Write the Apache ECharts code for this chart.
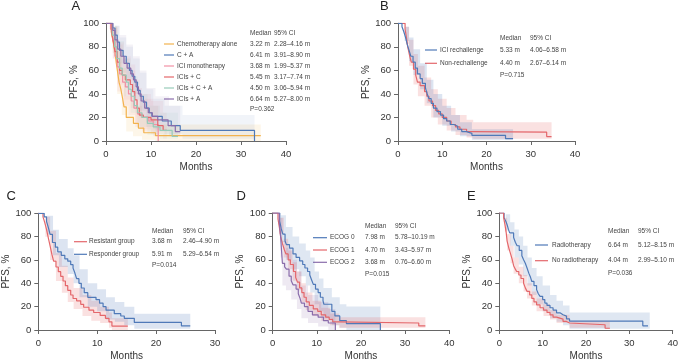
<!DOCTYPE html>
<html>
<head>
<meta charset="utf-8">
<script src="https://cdn.jsdelivr.net/npm/echarts@6/dist/echarts.min.js"></script>
<style>
  html, body { margin: 0; padding: 0; background: #fff; }
  #chart { width: 681px; height: 362px; }
</style>
</head>
<body>
<div id="chart"></div>
<script>
  // ---- panel A: treatment regimen ----
  const aChemo = [[0,100],[1.2,92],[1.6,84],[2.0,75],[2.3,66],[2.6,58],[2.9,50],[3.3,44],[3.6,38],[4.0,29],[4.5,20],[6.1,15],[7.2,11],[8.4,7],[11.0,4.5],[34.4,4.5]]
  const aCA = [[0,100],[1.5,96],[2.0,90],[2.5,84],[3.0,77],[3.8,72],[4.5,66],[5.2,60],[5.8,55],[6.4,50],[7.0,43],[7.6,38],[8.3,33],[9.0,28],[9.6,24],[10.2,21],[12.5,17],[14.5,13],[16.5,9],[33.0,9],[33.0,0]]
  const aICI = [[0,100],[1.0,95],[1.5,85],[2.0,72],[2.5,63],[3.0,57],[3.7,50],[4.3,46],[5.0,40],[5.6,34],[6.2,28],[7.0,23],[8.0,20],[9.5,17],[10.5,14],[11.6,0]]
  const aICIC = [[0,100],[1.2,93],[1.6,85],[2.0,76],[2.5,67],[3.0,60],[3.6,56],[4.3,52],[5.4,48],[5.9,42],[6.4,35],[6.9,28],[7.4,22],[8.3,20],[10.0,18],[11.5,13],[12.7,9],[13.5,9]]
  const aICICA = [[0,100],[1.4,90],[1.9,80],[2.4,70],[3.0,62],[3.6,56],[4.5,50],[5.0,44],[5.6,38],[6.3,30],[7.0,24],[8.0,20],[9.2,15],[10.5,12],[12.0,9],[14.7,4],[16.0,4]]
  const aICIA = [[0,100],[1.5,94],[2.0,86],[2.6,78],[3.3,72],[4.0,66],[4.7,62],[5.5,57],[6.1,52],[6.7,46],[7.2,40],[7.8,34],[8.6,28],[9.4,24],[10.3,21],[11.5,18],[13.8,13],[15.4,8],[16.5,8]]
  // bands: [month, lower, upper]
  const aChemoBand = [[0,100,100],[1.5,75,97],[2.5,40,78],[3.5,22,62],[4.5,8,38],[6,4,30],[8,1,20],[11,0,14],[34.4,0,14]]
  const aCABand = [[0,100,100],[2,80,98],[3,66,88],[4.5,53,80],[6,40,70],[7.5,26,58],[9,16,44],[10.5,10,36],[13,6,30],[17,2,22],[33,2,22]]
  const aICIBand = [[0,100,100],[1.5,70,96],[2.5,42,82],[3.7,30,70],[5,22,60],[6.5,12,45],[8,8,36],[10.5,4,30],[11.6,0,30]]
  const aICICBand = [[0,100,100],[1.5,70,97],[2.5,48,84],[4,35,72],[5.5,28,65],[6.5,16,52],[7.5,10,40],[10,6,34],[12.7,2,24],[13.5,2,24]]
  const aICICABand = [[0,100,100],[1.5,75,98],[2.5,55,85],[4,38,70],[5.5,24,55],[7,12,40],[9.2,5,30],[12,2,24],[16,0,18]]
  const aICIABand = [[0,100,100],[2,70,98],[3,58,90],[4.5,45,82],[6,35,72],[7.5,20,60],[9,12,45],[11,8,38],[14,4,30],[16.5,2,26]]
  const aLabels = ['Chemotherapy alone', 'C + A', 'ICI monotherapy', 'ICIs + C', 'ICIs + C + A', 'ICIs + A']
  const aMedians = ['3.22 m', '6.41 m', '3.68 m', '5.45 m', '4.50 m', '6.64 m']
  const aCIs = ['2.28–4.16 m', '3.91–8.90 m', '1.99–5.37 m', '3.17–7.74 m', '3.06–5.94 m', '5.27–8.00 m']

  // ---- panel B: rechallenge ----
  const bRe = [[0,100],[0.9,97],[1.3,93],[1.7,88],[2.1,82],[2.5,77],[2.9,72],[3.4,67],[3.9,62],[4.4,57],[5.0,53],[5.5,49],[6.2,45],[6.6,40],[7.0,36],[7.5,32],[8.0,28],[8.8,25],[9.6,22],[10.3,19],[11.0,17],[11.8,14],[12.6,12.5],[13.5,10],[14.4,8],[15.5,6.5],[16.7,4.8],[24.3,4.8],[24.3,2],[26.0,2]]
  const bNon = [[0,100],[1.6,95],[1.9,88],[2.2,80],[2.6,73],[3.0,67],[3.5,61],[4.0,56],[4.4,50],[5.0,47],[6.0,42],[6.5,38],[7.0,34],[7.8,30],[8.5,26],[9.2,23],[10.0,20],[11.0,17],[12.0,14],[13.0,12],[14.0,10],[15.5,8],[17.0,7.5],[33.6,7.5],[33.6,3.8],[34.7,3.8]]
  const bReBand = [[0,100,100],[1.5,85,97],[2.5,68,88],[3.5,56,78],[5,44,66],[6.5,32,52],[8,20,40],[10,13,30],[12,8,22],[14,4,16],[16.7,1,10],[26,1,10]]
  const bNonBand = [[0,100,100],[1.8,82,97],[2.5,64,86],[3.5,48,74],[4.5,38,64],[6,30,54],[7.5,20,44],[9,14,36],[11,9,28],[13,5,22],[15.5,3,18],[17,2,16],[34.7,2,16]]
  const bLabels = ['ICI rechallenge', 'Non-rechallenge']
  const bMedians = ['5.33 m', '4.40 m']
  const bCIs = ['4.06–6.58 m', '2.67–6.14 m']

  // ---- panel C: response group ----
  const cRes = [[0,100],[0.8,97],[1.1,92],[1.4,86],[1.7,79],[2.0,72],[2.3,65],[2.6,59],[3.0,54],[3.4,50],[3.8,46],[4.2,42],[4.6,38],[5.0,34],[5.5,30],[5.9,27],[6.5,25],[7.2,22],[7.7,19.5],[8.6,17],[9.4,15],[10.5,12.5],[11.4,10],[12.0,7],[12.5,3.4],[15.2,3.4]]
  const cResp = [[0,100],[1.0,97],[1.4,93],[1.7,88],[2.0,82],[2.4,75],[2.9,71],[3.3,67],[3.9,64],[4.5,61],[5.0,59],[5.5,56],[5.9,53],[6.2,49],[6.5,44],[6.9,40],[7.3,36],[7.8,32],[8.4,28],[9.8,26],[10.4,23],[11.0,20],[11.5,17],[12.9,14],[14.0,12],[14.6,10],[16.3,6.5],[24.3,6.5],[24.3,3.5],[25.8,3.5]]
  const cResBand = [[0,100,100],[1.2,80,97],[2,60,85],[3,42,66],[4,32,55],[5,24,45],[6,18,36],[7.5,12,30],[9,8,25],[10.5,6,20],[12,2,15],[12.5,0,10],[15.2,0,10]]
  const cRespBand = [[0,100,100],[1.5,82,98],[2.5,64,86],[3.5,54,78],[5,48,70],[6,40,64],[7,28,52],[8.4,20,40],[10,16,35],[11.5,9,28],[13,7,24],[14.6,4,20],[16.3,1,14],[25.8,1,14]]
  const cLabels = ['Resistant group', 'Responder group']
  const cMedians = ['3.68 m', '5.91 m']
  const cCIs = ['2.46–4.90 m', '5.29–6.54 m']

  // ---- panel D: ECOG ----
  const dE0 = [[0,100],[1.6,93],[1.9,87],[2.3,82],[2.8,76],[3.1,73],[3.8,70],[4.6,65],[5.3,62],[6.1,59],[6.8,56],[7.3,53],[7.9,50],[8.4,47],[8.8,43],[9.2,39],[9.7,35],[10.3,32],[10.8,28],[11.4,25],[11.6,22],[13.4,16],[14.1,12],[15.2,8],[16.7,5.5],[24.4,5.5],[24.4,0]]
  const dE1 = [[0,100],[1.2,95],[1.5,88],[1.8,80],[2.2,74],[2.6,69],[3.0,65],[3.5,60],[4.0,56],[4.7,50],[5.2,45],[5.6,41],[6.1,36],[6.6,32],[7.1,28],[7.6,24],[8.3,21],[9.2,18],[10.2,16],[11.0,13],[12.0,11],[12.8,9],[13.6,7],[15.0,6],[33.1,6],[33.1,3.5],[34.6,3.5]]
  const dE2 = [[0,100],[1.5,92],[1.8,80],[2.0,68],[2.2,57],[2.7,54],[3.1,52],[3.7,46],[4.2,42],[4.6,38.6],[5.3,35],[5.8,31],[6.2,27],[6.5,23],[7.2,20],[8.0,16],[9.0,13],[10.3,11],[11.5,8],[12.6,6],[14.2,0]]
  const dE0Band = [[0,100,100],[1.8,75,98],[3,60,88],[4.5,52,80],[6,46,74],[7.5,38,68],[8.5,32,62],[9.5,22,50],[10.5,16,44],[11.5,10,36],[13.4,4,28],[15.2,2,22],[16.7,0,20],[24.4,0,20]]
  const dE1Band = [[0,100,100],[1.5,82,96],[2.5,62,78],[3.5,52,68],[4.5,42,58],[5.5,34,50],[6.5,24,40],[7.5,17,32],[9,12,25],[11,8,19],[13,4,14],[15,2,11],[34.6,2,11]]
  const dE2Band = [[0,100,100],[1.8,62,96],[2.2,38,76],[3,34,70],[4.2,26,60],[5.5,18,50],[6.5,10,38],[8,6,30],[10.3,3,24],[12.6,0,18],[14.2,0,18]]
  const dLabels = ['ECOG 0', 'ECOG 1', 'ECOG 2']
  const dMedians = ['7.98 m', '4.70 m', '3.68 m']
  const dCIs = ['5.78–10.19 m', '3.43–5.97 m', '0.76–6.60 m']

  // ---- panel E: radiotherapy ----
  const eRad = [[0,100],[1.1,96],[1.5,93],[1.8,90],[2.1,86],[2.4,83],[3.3,79],[3.7,75],[4.1,72],[4.6,68],[5.2,63.5],[5.6,60],[6.0,57],[6.4,53],[6.8,48.6],[7.2,45],[7.5,41.5],[8.0,38],[8.6,34.5],[9.0,31],[9.4,28.8],[10.0,26],[10.5,23],[11.0,21],[11.7,19],[12.4,17],[13.2,14.7],[14.0,13],[14.7,11.9],[15.5,9.5],[16.2,7.6],[33.1,7.6],[33.1,3.6],[34.3,3.6]]
  const eNo = [[0,100],[1.0,96],[1.3,90],[1.6,83],[1.8,76],[2.2,70],[2.6,65],[3.0,60],[3.3,55],[3.7,52],[4.0,50],[4.5,47],[5.0,44],[5.6,40],[6.0,36],[6.4,33],[7.0,30],[7.5,27],[8.0,24],[8.6,21.5],[9.4,19],[10.2,17],[11.0,15],[11.7,13],[12.4,11],[13.2,9.3],[14.7,7.3],[15.5,6],[16.2,4.5],[24.4,4.5],[24.4,1.5],[25.5,1.5]]
  const eRadBand = [[0,100,100],[1.5,85,99],[2.5,72,92],[3.5,62,86],[4.5,56,80],[5.5,46,72],[6.5,38,62],[7.5,30,53],[8.6,22,46],[10,16,38],[11.7,10,30],[13.2,7,25],[14.7,4,21],[16.2,1,15],[34.7,1,15]]
  const eNoBand = [[0,100,100],[1.3,84,96],[1.8,68,82],[2.6,57,72],[3.3,48,62],[4.5,40,54],[5.6,33,47],[6.4,27,40],[7.5,21,33],[8.6,16,27],[10.2,12,22],[11.7,9,17],[13.2,6,13],[16.2,2,8],[24.4,1,8],[25.5,0,5]]
  const eLabels = ['Radiotherapy', 'No radiotherapy']
  const eMedians = ['6.64 m', '4.04 m']
  const eCIs = ['5.12–8.15 m', '2.99–5.10 m']

  const pValues = ['P=0.362', 'P=0.715', 'P=0.014', 'P=0.015', 'P=0.036']
  const xMaxes = [40, 40, 30, 40, 40]

  const FONT = 'Liberation Sans, Arial, sans-serif'
  const ORANGE = '#f2b24e', BLUE = '#4f79b8', PINK = '#f190a4', RED = '#e4676b', TEAL = '#98cbb9', PURPLE = '#8a6cab'

  const grids = [
    { left: 106, top: 23.3, width: 180, height: 117.7 },
    { left: 398, top: 23.3, width: 177, height: 117.7 },
    { left: 38.3, top: 213.3, width: 176.7, height: 117.7 },
    { left: 272.7, top: 213, width: 176.5, height: 118 },
    { left: 499.3, top: 213, width: 176.7, height: 118 }
  ]

  const axisLine = { lineStyle: { color: '#666', width: 1 } }
  const xAxes = grids.map((g, i) => ({
    type: 'value', gridIndex: i, min: 0, max: xMaxes[i], interval: 10,
    name: 'Months', nameLocation: 'middle', nameGap: 21,
    nameTextStyle: { fontFamily: FONT, fontSize: 10, color: '#333' },
    axisLine: axisLine, axisTick: { length: 4, lineStyle: { color: '#666' } },
    axisLabel: { fontFamily: FONT, fontSize: 9.5, color: '#333', margin: 8 },
    splitLine: { show: false }
  }))
  const yAxes = grids.map((g, i) => ({
    type: 'value', gridIndex: i, min: 0, max: 100, interval: 20,
    name: 'PFS, %', nameLocation: 'middle', nameGap: 27,
    nameTextStyle: { fontFamily: FONT, fontSize: 10, color: '#333' },
    axisLine: { show: true, lineStyle: { color: '#666', width: 1 } },
    axisTick: { show: true, length: 4, lineStyle: { color: '#666' } },
    axisLabel: { fontFamily: FONT, fontSize: 9.5, color: '#333', margin: 7 },
    splitLine: { show: false }
  }))

  const series = []
  // confidence band: one step-shaped polygon, points mapped through the axes
  function band(idx, rows, color, opacity) {
    series.push({
      type: 'custom', xAxisIndex: idx, yAxisIndex: idx, silent: true, z: 1,
      data: [[rows[0][0], rows[0][1]]],
      renderItem: function (params, api) {
        const top = [], bot = []
        for (let i = 0; i < rows.length; i++) {
          const t0 = rows[i][0]
          const t1 = i + 1 < rows.length ? rows[i + 1][0] : rows[i][0]
          top.push(api.coord([t0, rows[i][2]]), api.coord([t1, rows[i][2]]))
          bot.push(api.coord([t0, rows[i][1]]), api.coord([t1, rows[i][1]]))
        }
        return {
          type: 'polygon',
          shape: { points: top.concat(bot.reverse()) },
          style: { fill: color, opacity: opacity }
        }
      }
    })
  }
  function km(idx, data, color) {
    series.push({
      type: 'line', xAxisIndex: idx, yAxisIndex: idx, step: 'end',
      symbol: 'none', silent: true, z: 5,
      lineStyle: { color: color, width: 1.2 },
      data: data
    })
  }

  band(0, aChemoBand, ORANGE, 0.12)
  band(0, aCABand, BLUE, 0.08)
  band(0, aICIBand, PINK, 0.12)
  band(0, aICICBand, RED, 0.07)
  band(0, aICICABand, TEAL, 0.1)
  band(0, aICIABand, PURPLE, 0.09)
  km(0, aChemo, ORANGE); km(0, aCA, BLUE); km(0, aICI, PINK)
  km(0, aICIC, RED); km(0, aICICA, TEAL); km(0, aICIA, PURPLE)

  band(1, bNonBand, RED, 0.2)
  band(1, bReBand, BLUE, 0.2)
  km(1, bNon, RED); km(1, bRe, BLUE)

  band(2, cResBand, RED, 0.2)
  band(2, cRespBand, BLUE, 0.2)
  km(2, cRes, RED); km(2, cResp, BLUE)

  band(3, dE0Band, BLUE, 0.18)
  band(3, dE1Band, RED, 0.2)
  band(3, dE2Band, PURPLE, 0.15)
  km(3, dE0, BLUE); km(3, dE1, RED); km(3, dE2, PURPLE)

  band(4, eRadBand, BLUE, 0.18)
  band(4, eNoBand, RED, 0.2)
  km(4, eRad, BLUE); km(4, eNo, RED)

  // legend tables drawn as graphic text
  const graphic = []
  function txt(x, y, s, size, color) {
    graphic.push({ type: 'text', x: x, y: y, style: {
      text: s, fontFamily: FONT, fontSize: size || 6.5, fill: color || '#444', verticalAlign: 'middle', align: 'left'
    } })
  }
  function table(cfg, labels, medians, cis, colors, p) {
    txt(cfg.mx, cfg.hy, 'Median'); txt(cfg.cx, cfg.hy, '95% CI')
    labels.forEach((l, i) => {
      const y = cfg.ry + i * cfg.dy
      graphic.push({ type: 'line', shape: { x1: cfg.lx, y1: y, x2: cfg.lx + cfg.lw, y2: y },
        style: { stroke: colors[i], lineWidth: 1.2 } })
      txt(cfg.tx, y, l); txt(cfg.mx, y, medians[i]); txt(cfg.cx, y, cis[i])
    })
    txt(cfg.mx, cfg.py, p)
  }
  table({ hy: 33, ry: 44, dy: 11, lx: 164, lw: 10, tx: 177, mx: 250, cx: 274, py: 109 },
    aLabels, aMedians, aCIs, [ORANGE, BLUE, PINK, RED, TEAL, PURPLE], pValues[0])
  table({ hy: 38, ry: 50, dy: 13.3, lx: 425, lw: 12, tx: 440, mx: 500, cx: 530, py: 75 },
    bLabels, bMedians, bCIs, [BLUE, RED], pValues[1])
  table({ hy: 231, ry: 241.7, dy: 12.6, lx: 74, lw: 13, tx: 89, mx: 152, cx: 183, py: 265.7 },
    cLabels, cMedians, cCIs, [RED, BLUE], pValues[2])
  table({ hy: 226.7, ry: 237.7, dy: 12.3, lx: 313, lw: 14, tx: 330, mx: 365, cx: 395, py: 274 },
    dLabels, dMedians, dCIs, [BLUE, RED, PURPLE], pValues[3])
  table({ hy: 231.7, ry: 245, dy: 15.7, lx: 535, lw: 13, tx: 552, mx: 608, cx: 638, py: 273 },
    eLabels, eMedians, eCIs, [BLUE, RED], pValues[4])

  // panel letters
  txt(71.5, 6.5, 'A', 13, '#222')
  txt(380, 6.5, 'B', 13, '#222')
  txt(6.5, 196, 'C', 13, '#222')
  txt(236.5, 196, 'D', 13, '#222')
  txt(467, 196, 'E', 13, '#222')

  const chart = echarts.init(document.getElementById('chart'), null, { renderer: 'canvas' })
  chart.setOption({
    animation: false,
    backgroundColor: '#fff',
    grid: grids,
    xAxis: xAxes,
    yAxis: yAxes,
    series: series,
    graphic: graphic
  })
</script>
</body>
</html>
